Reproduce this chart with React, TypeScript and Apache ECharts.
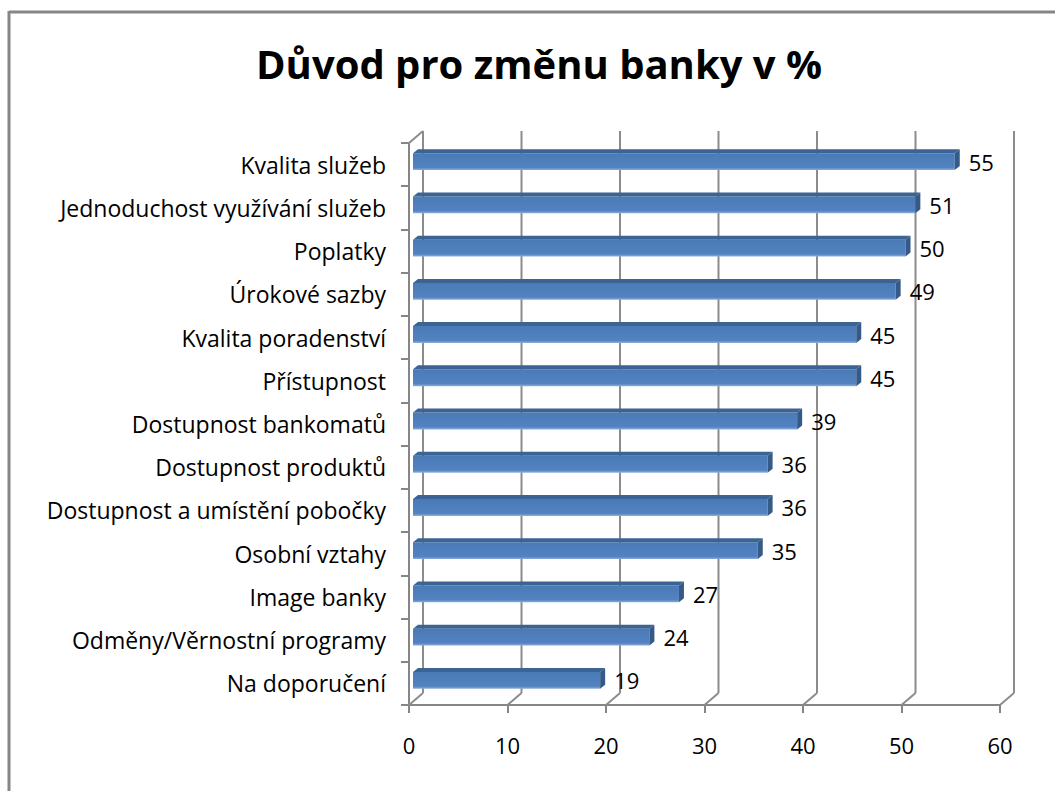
import React, { useEffect, useRef } from "react";
import * as echarts from "echarts";

const categories = [
  "Kvalita služeb",
  "Jednoduchost využívání služeb",
  "Poplatky",
  "Úrokové sazby",
  "Kvalita poradenství",
  "Přístupnost",
  "Dostupnost bankomatů",
  "Dostupnost produktů",
  "Dostupnost a umístění pobočky",
  "Osobní vztahy",
  "Image banky",
  "Odměny/Věrnostní programy",
  "Na doporučení",
];
const values = [55, 51, 50, 49, 45, 45, 39, 36, 36, 35, 27, 24, 19];
const xTicks = [0, 10, 20, 30, 40, 50, 60];
const title = "Důvod pro změnu banky v %";

const FONT = "Open Sans";
const DX = 14; // 3D depth offset x
const DY = -12; // 3D depth offset y

export default function App() {
  const ref = useRef<HTMLDivElement>(null);
  useEffect(() => {
    if (!ref.current) return;
    const chart = echarts.init(ref.current, null, { renderer: "svg" });
    const gridTop = 143;
    const gridBottom = 86;
    const gridLeft = 409;
    const gridRight = 55;
    chart.setOption({
      animation: false,
      backgroundColor: "#ffffff",
      title: {
        text: title,
        left: 251,
        top: 38,
        textStyle: { fontFamily: FONT, fontWeight: "bold", fontSize: 40, color: "#000" },
      },
      graphic: [
        { type: "line", shape: { x1: 9, y1: 12, x2: 1055, y2: 12 }, style: { stroke: "#868686", lineWidth: 3 } },
        { type: "line", shape: { x1: 9, y1: 11, x2: 9, y2: 791 }, style: { stroke: "#868686", lineWidth: 3 } },
      ],
      grid: { left: gridLeft, right: gridRight, top: gridTop, bottom: gridBottom },
      xAxis: {
        type: "value",
        min: 0,
        max: 60,
        interval: 10,
        axisLine: { show: true, lineStyle: { color: "#868686", width: 2 } },
        axisTick: { show: true, length: 8, lineStyle: { color: "#868686", width: 2 } },
        splitLine: { show: false },
        axisLabel: { margin: 29, fontFamily: FONT, fontSize: 22, color: "#000" },
      },
      yAxis: {
        type: "category",
        inverse: true,
        data: categories,
        axisLine: { show: true, lineStyle: { color: "#868686", width: 2 } },
        axisTick: { show: true, length: 8, alignWithLabel: false, lineStyle: { color: "#868686", width: 2 } },
        axisLabel: { margin: 23, fontFamily: FONT, fontSize: 23, color: "#000" },
      },
      series: [
        {
          type: "custom",
          z: 1,
          data: xTicks.map((t) => [t, 0]),
          encode: { x: 0, y: 1 },
          renderItem: (params: any, api: any) => {
            const v = api.value(0);
            const cs = params.coordSys;
            const x = api.coord([v, 0])[0];
            const yTop = cs.y;
            const yBot = cs.y + cs.height;
            const children: any[] = [
              {
                type: "line",
                shape: { x1: x + DX, y1: yTop + DY, x2: x + DX, y2: yBot + DY },
                style: { stroke: "#8c8c8c", lineWidth: 2 },
              },
              {
                type: "line",
                shape: { x1: x, y1: yBot, x2: x + DX, y2: yBot + DY },
                style: { stroke: "#8c8c8c", lineWidth: 2 },
              },
            ];
            if (v === 0) {
              children.push({
                type: "line",
                shape: { x1: x, y1: yTop, x2: x + DX, y2: yTop + DY },
                style: { stroke: "#8c8c8c", lineWidth: 2 },
              });
            }
            return { type: "group", children };
          },
        },
        {
          type: "custom",
          z: 3,
          data: values.map((v, i) => [v, i]),
          encode: { x: 0, y: 1 },
          renderItem: (params: any, api: any) => {
            const v = api.value(0);
            const i = api.value(1);
            const p0 = api.coord([0, i]);
            const p1 = api.coord([v, i]);
            const band = api.size([0, 1])[1];
            const h = band * 0.39;
            const ox = 4;
            const oy = -3;
            const x0 = p0[0] + ox;
            const x1 = p1[0] + ox;
            const yc = p0[1] + oy;
            const top = yc - h / 2;
            const bot = yc + h / 2;
            const dx = 5;
            const dy = -4;
            return {
              type: "group",
              children: [
                {
                  type: "rect",
                  shape: { x: x0, y: top, width: x1 - x0, height: h },
                  style: {
                    fill: new echarts.graphic.LinearGradient(0, 0, 0, 1, [
                      { offset: 0, color: "#4a7bb7" },
                      { offset: 0.85, color: "#5283c0" },
                      { offset: 1, color: "#8eaedb" },
                    ]),
                  },
                },
                {
                  type: "polygon",
                  shape: { points: [[x0, top], [x0 + dx, top + dy], [x1 + dx, top + dy], [x1, top]] },
                  style: { fill: "#3b6394" },
                },
                {
                  type: "polygon",
                  shape: { points: [[x1, top], [x1 + dx, top + dy], [x1 + dx, bot + dy], [x1, bot]] },
                  style: { fill: "#355a88" },
                },
                {
                  type: "text",
                  style: {
                    text: String(v),
                    x: x1 + dx + 9,
                    y: yc,
                    textAlign: "left",
                    textVerticalAlign: "middle",
                    fontFamily: FONT,
                    fontSize: 22,
                    fill: "#000",
                  },
                },
              ],
            };
          },
        },
      ],
    });
    return () => chart.dispose();
  }, []);
  return (
    <div
      ref={ref}
      style={{ position: "absolute", left: 0, top: 0, width: 1055, height: 791 }}
    />
  );
}
